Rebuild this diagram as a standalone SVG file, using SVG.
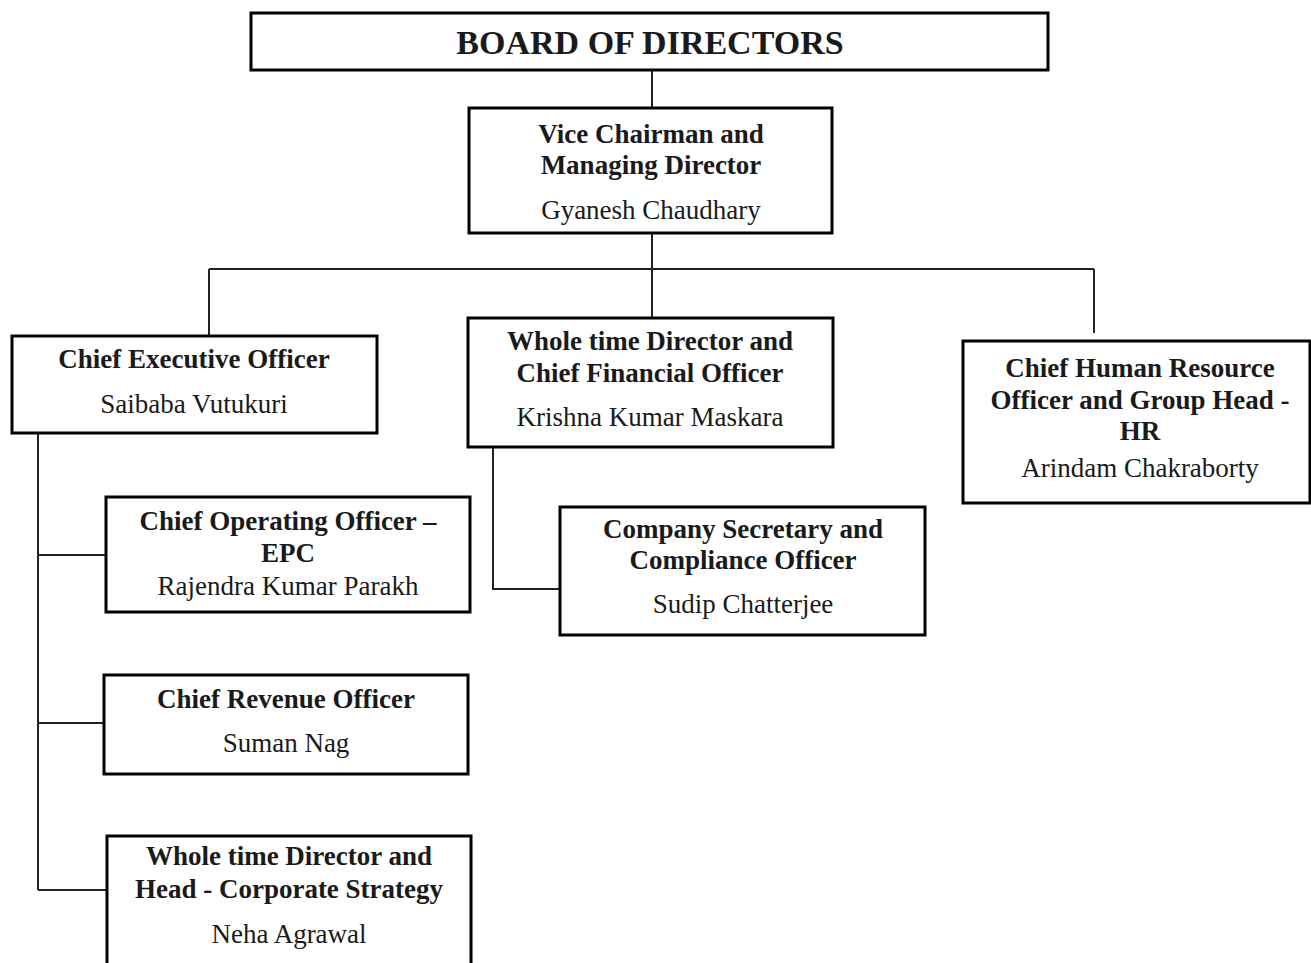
<svg xmlns="http://www.w3.org/2000/svg" width="1311" height="963" viewBox="0 0 1311 963">
<style>
.box{fill:#fff;stroke:#000;stroke-width:3}
.t{font-family:"Liberation Serif","Times New Roman",serif;font-size:27px;font-weight:bold;fill:#1a1a1a;text-anchor:middle}
.n{font-family:"Liberation Serif","Times New Roman",serif;font-size:27px;fill:#1a1a1a;text-anchor:middle}
.c{fill:none;stroke:#222;stroke-width:2}
</style>
<rect width="1311" height="963" fill="#fff"/>
<g id="connectors">
<path class="c" d="M652 70V108"/>
<path class="c" d="M652 233V318"/>
<path class="c" d="M209 269H1094"/>
<path class="c" d="M209 269V336"/>
<path class="c" d="M1094 269V333"/>
<path class="c" d="M38 433V890"/>
<path class="c" d="M38 555H106"/>
<path class="c" d="M38 723H104"/>
<path class="c" d="M38 890H107"/>
<path class="c" d="M493 447V589H560"/>
</g>
<g id="board">
<rect class="box" x="251" y="13" width="797" height="57"/>
<text class="t" x="650" y="54" style="font-size:34px">BOARD OF DIRECTORS</text>
</g>
<g id="vc">
<rect class="box" x="469" y="108" width="363" height="125"/>
<text class="t" x="651" y="143">Vice Chairman and</text>
<text class="t" x="651" y="174">Managing Director</text>
<text class="n" x="651" y="219">Gyanesh Chaudhary</text>
</g>
<g id="ceo">
<rect class="box" x="12" y="336" width="365" height="97"/>
<text class="t" x="194" y="368">Chief Executive Officer</text>
<text class="n" x="194" y="413">Saibaba Vutukuri</text>
</g>
<g id="cfo">
<rect class="box" x="468" y="318" width="365" height="129"/>
<text class="t" x="650" y="350">Whole time Director and</text>
<text class="t" x="650" y="382">Chief Financial Officer</text>
<text class="n" x="650" y="426">Krishna Kumar Maskara</text>
</g>
<g id="chro">
<rect class="box" x="963" y="341" width="347" height="162"/>
<text class="t" x="1140" y="377">Chief Human Resource</text>
<text class="t" x="1140" y="409">Officer and Group Head -</text>
<text class="t" x="1140" y="440">HR</text>
<text class="n" x="1140" y="477">Arindam Chakraborty</text>
</g>
<g id="cs">
<rect class="box" x="560" y="507" width="365" height="128"/>
<text class="t" x="743" y="538">Company Secretary and</text>
<text class="t" x="743" y="569">Compliance Officer</text>
<text class="n" x="743" y="613">Sudip Chatterjee</text>
</g>
<g id="coo">
<rect class="box" x="106" y="497" width="364" height="115"/>
<text class="t" x="288" y="530">Chief Operating Officer –</text>
<text class="t" x="288" y="562">EPC</text>
<text class="n" x="288" y="595">Rajendra Kumar Parakh</text>
</g>
<g id="cro">
<rect class="box" x="104" y="675" width="364" height="99"/>
<text class="t" x="286" y="708">Chief Revenue Officer</text>
<text class="n" x="286" y="752">Suman Nag</text>
</g>
<g id="wtd">
<rect class="box" x="107" y="836" width="364" height="140"/>
<text class="t" x="289" y="865">Whole time Director and</text>
<text class="t" x="289" y="898">Head - Corporate Strategy</text>
<text class="n" x="289" y="943">Neha Agrawal</text>
</g>
</svg>
